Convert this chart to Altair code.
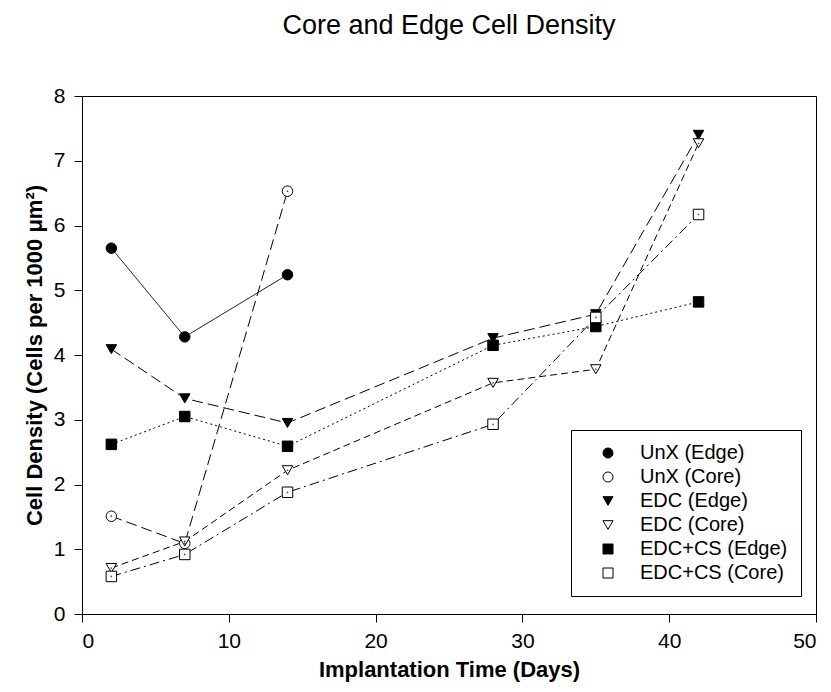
import altair as alt
import pandas as pd

# ---- data ----
series = ["UnX (Edge)", "UnX (Core)", "EDC (Edge)", "EDC (Core)", "EDC+CS (Edge)", "EDC+CS (Core)"]
days_unx = [2, 7, 14]
days_all = [2, 7, 14, 28, 35, 42]
unx_edge = [5.65, 4.28, 5.24]
unx_core = [1.51, 1.09, 6.53]
edc_edge = [4.09, 3.33, 2.95, 4.26, 4.63, 7.40]
edc_core = [0.71, 1.12, 2.22, 3.57, 3.78, 7.27]
edccs_edge = [2.62, 3.05, 2.59, 4.15, 4.44, 4.82]
edccs_core = [0.58, 0.92, 1.88, 2.93, 4.58, 6.17]

x_ticks = [0, 10, 20, 30, 40, 50]
y_ticks = [0, 1, 2, 3, 4, 5, 6, 7, 8]

shapes = ["circle", "circle", "triangle-down", "triangle-down", "square", "square"]
fills = ["black", "white", "black", "white", "black", "white"]
strokes = ["black"] * 6
dashes = [[1, 0], [11, 5], [11, 5], [7, 4], [2, 3], [10, 4, 2, 4]]

rows = []
for name, days, vals in [
    (series[0], days_unx, unx_edge),
    (series[1], days_unx, unx_core),
    (series[2], days_all, edc_edge),
    (series[3], days_all, edc_core),
    (series[4], days_all, edccs_edge),
    (series[5], days_all, edccs_core),
]:
    for d, v in zip(days, vals):
        rows.append({"series": name, "style": "s_" + name, "day": d, "density": v,
                     "core": name.endswith("(Core)")})
df = pd.DataFrame(rows)
styles = ["s_" + s for s in series]

FONT = "Liberation Sans"

x_enc = alt.X("day:Q", scale=alt.Scale(domain=[0, 50], nice=False),
              axis=alt.Axis(values=x_ticks, format="d", title="Implantation Time (Days)",
                            tickSize=8, labelPadding=8, titlePadding=8,
                            labelFont=FONT, labelFontSize=21,
                            titleFont=FONT, titleFontSize=22, titleFontWeight="bold"))
y_enc = alt.Y("density:Q", scale=alt.Scale(domain=[0, 8], nice=False),
              axis=alt.Axis(values=y_ticks, format="d", title="Cell Density (Cells per 1000 μm²)",
                            tickSize=8, labelPadding=9, titlePadding=7,
                            labelFont=FONT, labelFontSize=21,
                            titleFont=FONT, titleFontSize=22, titleFontWeight="bold"))

lines = alt.Chart(df).mark_line(color="black", strokeWidth=1).encode(
    x=x_enc, y=y_enc,
    detail="style:N",
    strokeDash=alt.StrokeDash("style:N", scale=alt.Scale(domain=styles, range=dashes), legend=None),
    order="day:Q",
)

leg = alt.Legend(title=None, orient="none", legendX=489, legendY=334,
                 strokeColor="black", fillColor="white", padding=13,
                 symbolOffset=14, labelOffset=22, rowPadding=4,
                 labelFont=FONT, labelFontSize=20, labelColor="black",
                 symbolSize=100, symbolStrokeColor="black",
                 symbolStrokeWidth=1, labelLimit=300)

points = alt.Chart(df).mark_point(strokeWidth=1, size=110, opacity=1, fillOpacity=1).encode(
    x="day:Q", y="density:Q",
    shape=alt.Shape("series:N", scale=alt.Scale(domain=series, range=shapes), legend=leg),
    fill=alt.Fill("series:N", scale=alt.Scale(domain=series, range=fills), legend=leg),
    stroke=alt.Stroke("series:N", scale=alt.Scale(domain=series, range=strokes), legend=leg),
)

dots = alt.Chart(df).transform_filter("datum.core").mark_point(
    filled=True, color="black", size=3, shape="circle").encode(x="day:Q", y="density:Q")

chart = alt.layer(lines, points, dots).properties(
    width=734, height=518,
    autosize=alt.AutoSizeParams(type="none"),
    padding={"left": 74, "top": 88, "right": 7, "bottom": 70},
    title=alt.Title("Core and Edge Cell Density", font=FONT, fontSize=27,
                    fontWeight="normal", color="black", anchor="middle",
                    baseline="alphabetic", offset=24),
).configure_view(stroke="black", strokeWidth=1).configure_axis(
    grid=False, domainColor="black", tickColor="black", labelColor="black",
    titleColor="black", domainWidth=1, tickWidth=1,
)

chart.save("out.html", embed_options={"renderer": "svg", "actions": False})
